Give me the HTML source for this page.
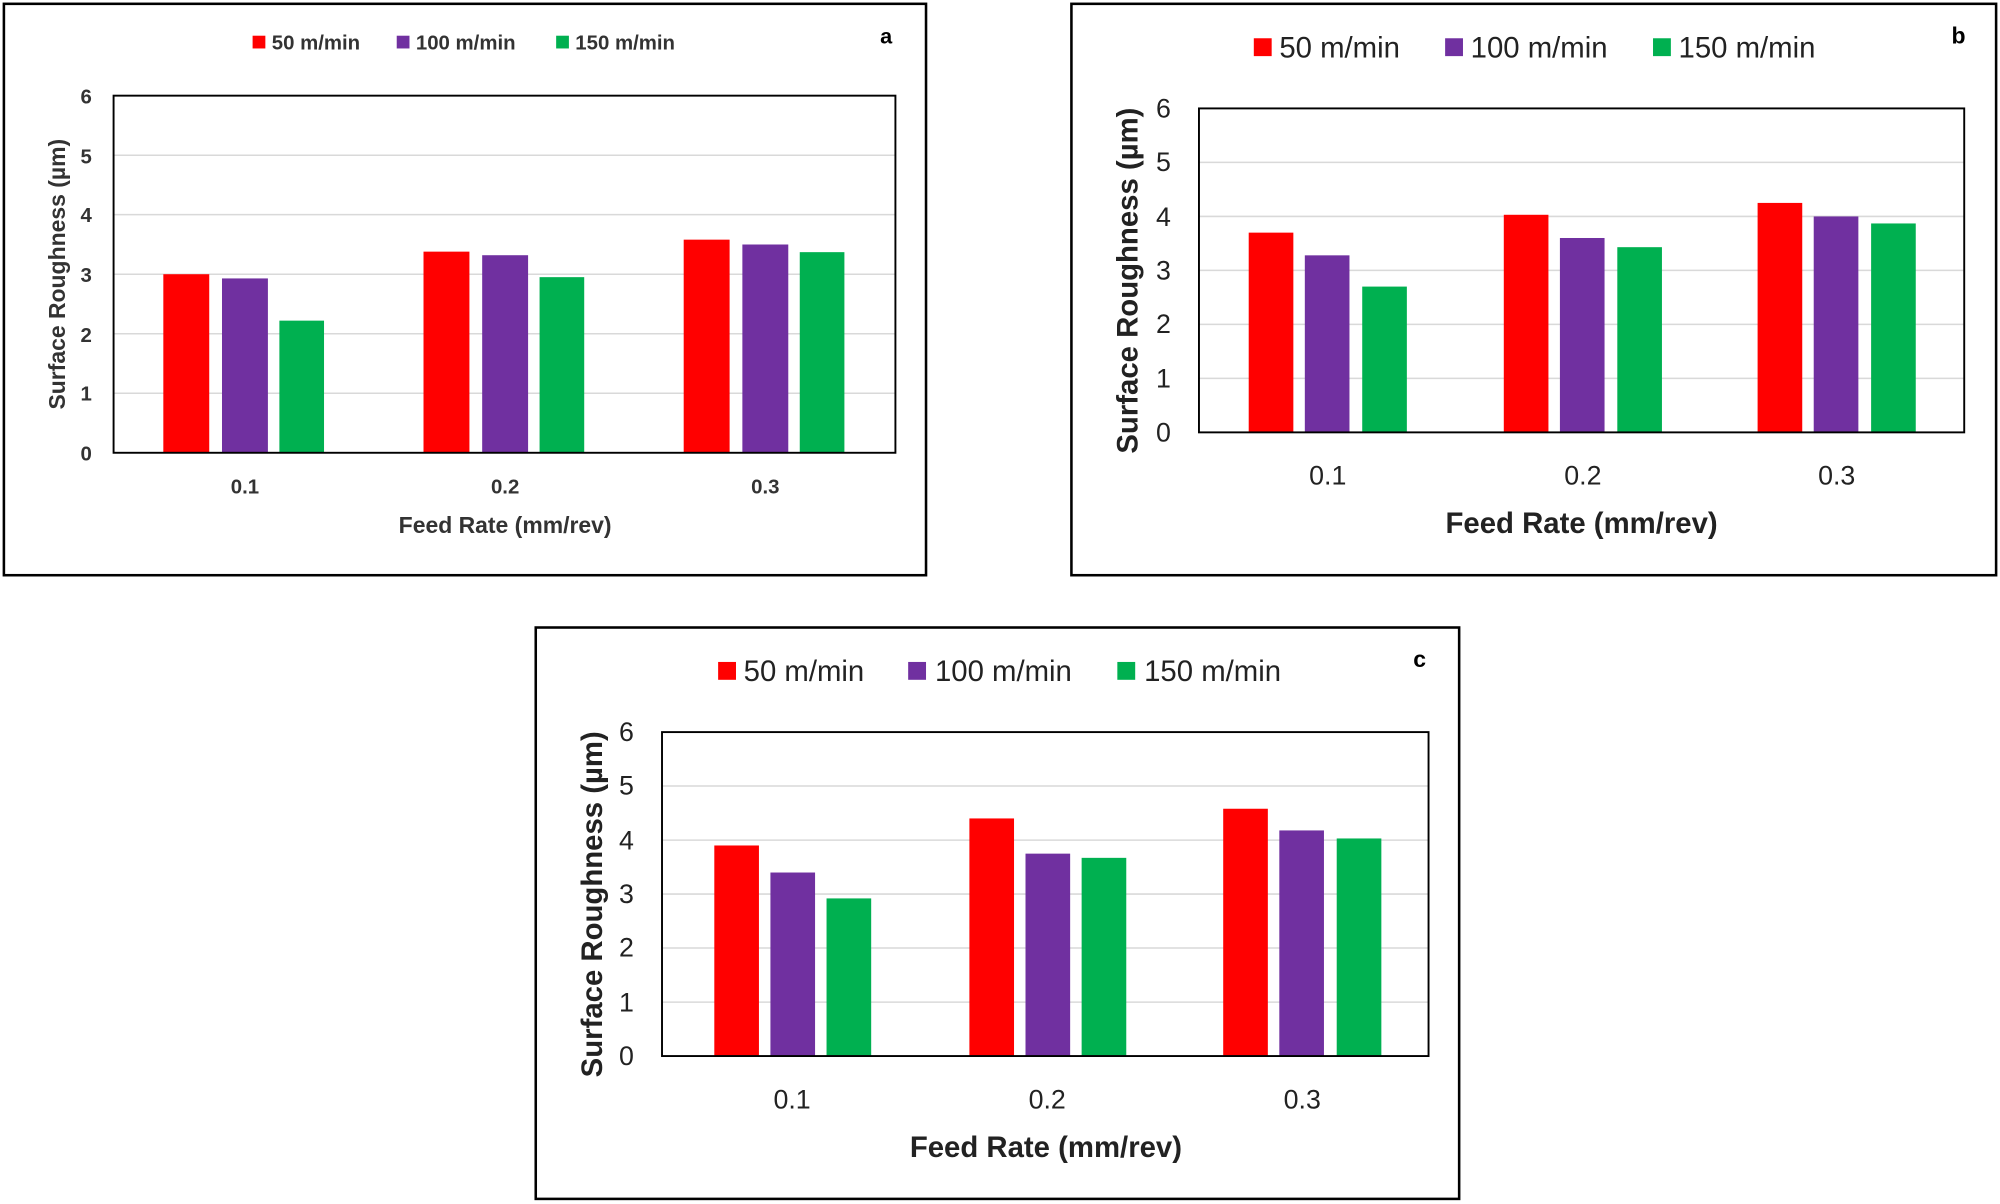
<!DOCTYPE html>
<html><head><meta charset="utf-8"><style>html,body{margin:0;padding:0;background:#fff}svg{display:block}</style></head>
<body>
<svg width="2000" height="1204" viewBox="0 0 1568 944" xmlns="http://www.w3.org/2000/svg" font-family="Liberation Sans, sans-serif">
<rect width="1568" height="944" fill="#fff"/>
<!-- Panel a -->
<rect x="3" y="3" width="723" height="448" fill="none" stroke="#000" stroke-width="2"/>
<g stroke="#d9d9d9" stroke-width="1.2">
<line x1="89" x2="702" y1="308.3" y2="308.3"/><line x1="89" x2="702" y1="261.7" y2="261.7"/><line x1="89" x2="702" y1="215" y2="215"/><line x1="89" x2="702" y1="168.3" y2="168.3"/><line x1="89" x2="702" y1="121.7" y2="121.7"/></g>
<g fill="#FF0000"><rect x="128" y="215" width="36" height="140"/><rect x="332" y="197.3" width="36" height="157.7"/><rect x="536" y="187.9" width="36" height="167.1"/></g>
<g fill="#7030A0"><rect x="174" y="218.3" width="36" height="136.7"/><rect x="378" y="200.1" width="36" height="154.9"/><rect x="582" y="191.7" width="36" height="163.3"/></g>
<g fill="#00B050"><rect x="219" y="251.4" width="35" height="103.6"/><rect x="423" y="217.3" width="35" height="137.7"/><rect x="627" y="197.7" width="35" height="157.3"/></g>
<rect x="89" y="75" width="613" height="280" fill="none" stroke="#000" stroke-width="1.5"/>
<g font-size="16" font-weight="bold" fill="#333" text-anchor="end">
<text x="72" y="361">0</text><text x="72" y="314">1</text><text x="72" y="268">2</text><text x="72" y="221">3</text><text x="72" y="174">4</text><text x="72" y="128">5</text><text x="72" y="81">6</text></g>
<g font-size="16" font-weight="bold" fill="#333" text-anchor="middle">
<text x="192" y="387">0.1</text><text x="396" y="387">0.2</text><text x="600" y="387">0.3</text>
<text x="396" y="418" font-size="18">Feed Rate (mm/rev)</text>
<text transform="translate(51,215) rotate(-90)" font-size="18">Surface Roughness (µm)</text></g>
<g font-size="16" font-weight="bold" fill="#333">
<rect x="198" y="28" width="10" height="10" fill="#FF0000"/><text x="213" y="39">50 m/min</text>
<rect x="311" y="28" width="10" height="10" fill="#7030A0"/><text x="326" y="39">100 m/min</text>
<rect x="436" y="28" width="10" height="10" fill="#00B050"/><text x="451" y="39">150 m/min</text>
<text x="690" y="34" font-size="17" fill="#000">a</text></g>

<!-- Panel b -->
<rect x="840" y="3" width="725" height="448" fill="none" stroke="#000" stroke-width="2"/>
<g stroke="#d9d9d9" stroke-width="1.2">
<line x1="940" x2="1540" y1="296.7" y2="296.7"/><line x1="940" x2="1540" y1="254.3" y2="254.3"/><line x1="940" x2="1540" y1="212" y2="212"/><line x1="940" x2="1540" y1="169.7" y2="169.7"/><line x1="940" x2="1540" y1="127.3" y2="127.3"/></g>
<g fill="#FF0000"><rect x="979" y="182.4" width="35" height="156.6"/><rect x="1179" y="168.4" width="35" height="170.6"/><rect x="1378" y="159.1" width="35" height="179.9"/></g>
<g fill="#7030A0"><rect x="1023" y="200.2" width="35" height="138.8"/><rect x="1223" y="186.6" width="35" height="152.4"/><rect x="1422" y="169.7" width="35" height="169.3"/></g>
<g fill="#00B050"><rect x="1068" y="224.7" width="35" height="114.3"/><rect x="1268" y="193.8" width="35" height="145.2"/><rect x="1467" y="175.2" width="35" height="163.8"/></g>
<rect x="940" y="85" width="600" height="254" fill="none" stroke="#000" stroke-width="1.5"/>
<g font-size="21" fill="#222" text-anchor="end">
<text x="918" y="346">0</text><text x="918" y="304">1</text><text x="918" y="261">2</text><text x="918" y="219">3</text><text x="918" y="177">4</text><text x="918" y="134">5</text><text x="918" y="92">6</text></g>
<g font-size="21" fill="#222" text-anchor="middle">
<text x="1041" y="380">0.1</text><text x="1241" y="380">0.2</text><text x="1440" y="380">0.3</text>
<text x="1240" y="418" font-weight="bold" font-size="23">Feed Rate (mm/rev)</text>
<text transform="translate(892,220) rotate(-90)" font-weight="bold" font-size="23">Surface Roughness (µm)</text></g>
<g font-size="23" fill="#222">
<rect x="983" y="30" width="14" height="14" fill="#FF0000"/><text x="1003" y="45">50 m/min</text>
<rect x="1133" y="30" width="14" height="14" fill="#7030A0"/><text x="1153" y="45">100 m/min</text>
<rect x="1296" y="30" width="14" height="14" fill="#00B050"/><text x="1316" y="45">150 m/min</text>
<text x="1530" y="34" font-size="18" font-weight="bold" fill="#000">b</text></g>

<!-- Panel c -->
<rect x="420" y="492" width="724" height="448" fill="none" stroke="#000" stroke-width="2"/>
<g stroke="#d9d9d9" stroke-width="1.2">
<line x1="519" x2="1120" y1="785.7" y2="785.7"/><line x1="519" x2="1120" y1="743.3" y2="743.3"/><line x1="519" x2="1120" y1="701" y2="701"/><line x1="519" x2="1120" y1="658.7" y2="658.7"/><line x1="519" x2="1120" y1="616.3" y2="616.3"/></g>
<g fill="#FF0000"><rect x="560" y="662.9" width="35" height="165.1"/><rect x="760" y="641.7" width="35" height="186.3"/><rect x="959" y="634.1" width="35" height="193.9"/></g>
<g fill="#7030A0"><rect x="604" y="684.1" width="35" height="143.9"/><rect x="804" y="669.3" width="35" height="158.7"/><rect x="1003" y="651.1" width="35" height="176.9"/></g>
<g fill="#00B050"><rect x="648" y="704.4" width="35" height="123.6"/><rect x="848" y="672.6" width="35" height="155.4"/><rect x="1048" y="657.4" width="35" height="170.6"/></g>
<rect x="519" y="574" width="601" height="254" fill="none" stroke="#000" stroke-width="1.5"/>
<g font-size="21" fill="#222" text-anchor="end">
<text x="497" y="835">0</text><text x="497" y="793">1</text><text x="497" y="750">2</text><text x="497" y="708">3</text><text x="497" y="666">4</text><text x="497" y="623">5</text><text x="497" y="581">6</text></g>
<g font-size="21" fill="#222" text-anchor="middle">
<text x="621" y="869">0.1</text><text x="821" y="869">0.2</text><text x="1021" y="869">0.3</text>
<text x="820" y="907" font-weight="bold" font-size="23">Feed Rate (mm/rev)</text>
<text transform="translate(472,709) rotate(-90)" font-weight="bold" font-size="23">Surface Roughness (µm)</text></g>
<g font-size="23" fill="#222">
<rect x="563" y="519" width="14" height="14" fill="#FF0000"/><text x="583" y="534">50 m/min</text>
<rect x="712" y="519" width="14" height="14" fill="#7030A0"/><text x="733" y="534">100 m/min</text>
<rect x="876" y="519" width="14" height="14" fill="#00B050"/><text x="897" y="534">150 m/min</text>
<text x="1108" y="523" font-size="18" font-weight="bold" fill="#000">c</text></g>
</svg>
</body></html>
